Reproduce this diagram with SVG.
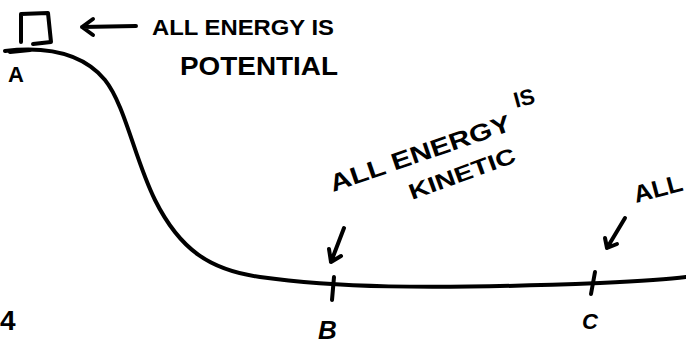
<svg xmlns="http://www.w3.org/2000/svg" width="686" height="347" viewBox="0 0 686 347">
<style>
.ink{fill:none;stroke:#000;stroke-width:4;stroke-linecap:round;stroke-linejoin:round}
.t{font-family:"Liberation Sans",Arial,sans-serif;font-weight:bold;fill:#000}
</style>
<rect width="686" height="347" fill="#fff"/>
<g id="track">
<path class="ink" d="M5,51 C40,47 80,50 105,80 C125,105 135,160 155,200 C180,250 210,270 260,277 C330,287 420,290 600,283 C640,281 670,279 686,277"/>
</g>
<g id="block">
<path class="ink" d="M21,42 L21,14 L48,13 L51,42 L33,44"/>
</g>
<g id="pointA">
<path class="ink" d="M10,52 L30,50"/>
<text class="t" x="8" y="82" font-size="22">A</text>
</g>
<g id="pointB">
<path class="ink" d="M334,277 L332,300"/>
<text class="t" x="318" y="339" font-size="26" font-style="italic">B</text>
</g>
<g id="pointC">
<path class="ink" d="M595,272 L591,294"/>
<text class="t" x="582" y="329" font-size="22" font-style="italic">C</text>
</g>
<g id="edge4">
<text class="t" x="0" y="330" font-size="28">4</text>
</g>
<g id="labelPotential">
<text class="t" x="152" y="35" font-size="22" textLength="182" lengthAdjust="spacingAndGlyphs">ALL ENERGY IS</text>
<text class="t" x="180" y="75" font-size="26" textLength="158" lengthAdjust="spacingAndGlyphs">POTENTIAL</text>
</g>
<g id="labelKinetic">
<text class="t" font-size="24" transform="translate(333,192) rotate(-19)" textLength="190" lengthAdjust="spacingAndGlyphs">ALL ENERGY</text>
<text class="t" font-size="22" transform="translate(516,108) rotate(-15)">IS</text>
<text class="t" font-size="22" transform="translate(412,200) rotate(-20)" textLength="112" lengthAdjust="spacingAndGlyphs">KINETIC</text>
</g>
<g id="labelC">
<text class="t" font-size="24" transform="translate(636,203) rotate(-15)" textLength="50" lengthAdjust="spacingAndGlyphs">ALL</text>
</g>
<g id="connectors">
<path class="ink" d="M136,26 L82,27 M93,19 L82,27 L93,35"/>
<path class="ink" d="M344,228 L331,262 M329,249 L331,262 L341,256"/>
<path class="ink" d="M625,218 L607,248 M605,238 L607,248 L617,244"/>
</g>
</svg>
